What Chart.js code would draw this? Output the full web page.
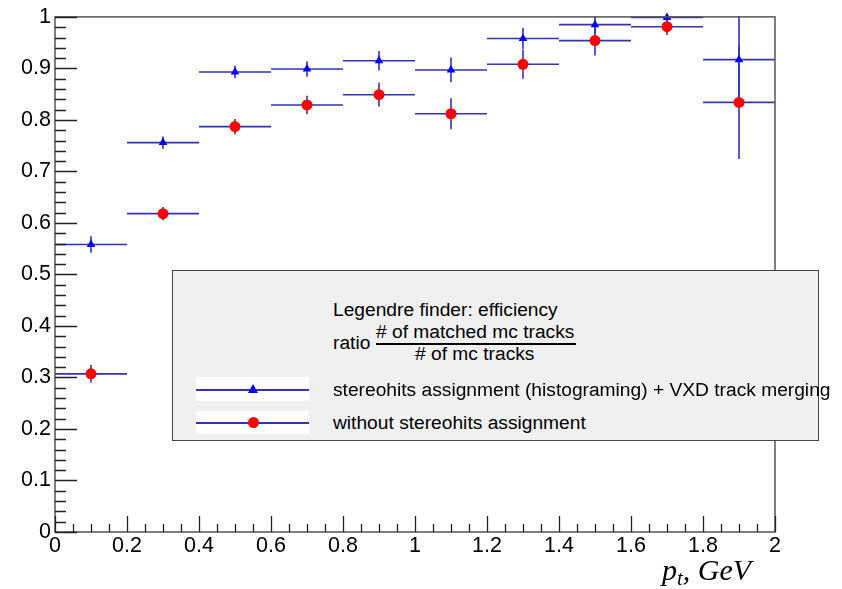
<!DOCTYPE html>
<html>
<head>
<meta charset="utf-8">
<script src="https://cdn.jsdelivr.net/npm/chart.js@4/dist/chart.umd.min.js"></script>
<style>
  body { margin: 0; background: #fff; }
  #wrap { position: relative; width: 842px; height: 589px; font-family: "Liberation Sans", Arial, sans-serif; }
  #chart { position: absolute; left: 0; top: 0; }
  .abs { position: absolute; white-space: nowrap; }
  #legend { left: 172px; top: 270px; width: 645px; height: 169px; background: #f0f0f0; border: 1px solid #444; }
  .txt { font-size: 19.2px; line-height: 22px; color: #000; }
  .entrybox { background: #fff; }
  .eline { height: 2px; background: #3333bb; }
  .tri { width: 0; height: 0; border-left: 5px solid transparent; border-right: 5px solid transparent; border-bottom: 9px solid #0000ff; }
  .dot { width: 11px; height: 11px; border-radius: 50%; background: #ff0000; }
  #xtitle { font-family: "Liberation Serif", serif; font-style: italic; font-size: 30px; line-height: 34px; }
  #xtitle sub { font-size: 21px; vertical-align: -5px; }
</style>
</head>
<body>
<div id="wrap">
  <canvas id="chart" width="842" height="589"></canvas>

  <div id="legend" class="abs"></div>
  <div class="abs txt" style="left:333px; top:299px;">Legendre finder: efficiency</div>
  <div class="abs txt" style="left:333px; top:332px;">ratio</div>
  <div class="abs txt" style="left:376px; top:321px;"># of matched mc tracks</div>
  <div class="abs" style="left:376px; top:343px; width:200px; height:2px; background:#000;"></div>
  <div class="abs txt" style="left:415px; top:343px;"># of mc tracks</div>

  <div class="abs entrybox" style="left:196px; top:377px; width:113px; height:24px;"></div>
  <div class="abs eline" style="left:196px; top:389px; width:113px;"></div>
  <div class="abs tri" style="left:248px; top:384px;"></div>
  <div class="abs txt" style="left:333px; top:379px;">stereohits assignment (histograming) + VXD track merging</div>

  <div class="abs entrybox" style="left:196px; top:411px; width:113px; height:23px;"></div>
  <div class="abs eline" style="left:196px; top:422px; width:113px;"></div>
  <div class="abs dot" style="left:248px; top:417px;"></div>
  <div class="abs txt" style="left:333px; top:412px;">without stereohits assignment</div>

  <div id="xtitle" class="abs" style="left:662px; top:553px;">p<sub>t</sub>, GeV</div>
</div>

<script>
// bin centres and half widths (p_t, GeV)
var binCenters = [0.1, 0.3, 0.5, 0.7, 0.9, 1.1, 1.3, 1.5, 1.7, 1.9];
var binHalfWidth = [0.1, 0.1, 0.1, 0.1, 0.1, 0.1, 0.1, 0.1, 0.1, 0.1];

// stereohits assignment (histograming) + VXD track merging
var effStereo = [0.558, 0.756, 0.893, 0.899, 0.915, 0.897, 0.958, 0.985, 0.999, 0.917];
var errStereo = [0.016, 0.012, 0.012, 0.015, 0.019, 0.024, 0.021, 0.018, 0.008, 0.090];

// without stereohits assignment
var effPlain = [0.307, 0.618, 0.787, 0.829, 0.849, 0.812, 0.908, 0.954, 0.981, 0.834];
var errPlain = [0.017, 0.013, 0.015, 0.018, 0.023, 0.030, 0.028, 0.029, 0.016, 0.110];

var xTickValues = [0, 0.2, 0.4, 0.6, 0.8, 1, 1.2, 1.4, 1.6, 1.8, 2];
var yTickValues = [0, 0.1, 0.2, 0.3, 0.4, 0.5, 0.6, 0.7, 0.8, 0.9, 1];

var barColor = '#3333bb';

function points(ys, errs) {
    return binCenters.map(function (x, i) {
        return { x: x, y: ys[i], xErr: binHalfWidth[i], yErr: errs[i] };
    });
}

function fmt(v) {
    return String(+v.toFixed(2));
}

// ROOT-like error crosses, drawn under the markers
var errorBars = {
    id: 'errorBars',
    beforeDatasetsDraw: function (chart) {
        var ctx = chart.ctx, xs = chart.scales.x, ys = chart.scales.y, area = chart.chartArea;
        ctx.save();
        ctx.beginPath();
        ctx.rect(area.left, area.top - 1, area.right - area.left + 1, area.bottom - area.top + 1);
        ctx.clip();
        ctx.strokeStyle = barColor;
        ctx.lineWidth = 1.6;
        chart.data.datasets.forEach(function (ds) {
            ds.data.forEach(function (p) {
                var py = ys.getPixelForValue(p.y);
                var px = xs.getPixelForValue(p.x);
                ctx.beginPath();
                ctx.moveTo(xs.getPixelForValue(p.x - p.xErr), py);
                ctx.lineTo(xs.getPixelForValue(p.x + p.xErr), py);
                ctx.moveTo(px, ys.getPixelForValue(p.y - p.yErr));
                ctx.lineTo(px, ys.getPixelForValue(p.y + p.yErr));
                ctx.stroke();
            });
        });
        ctx.restore();
    }
};

// frame and inward ticks
var rootFrame = {
    id: 'rootFrame',
    afterDraw: function (chart) {
        var ctx = chart.ctx, xs = chart.scales.x, ys = chart.scales.y, a = chart.chartArea;
        ctx.save();
        ctx.strokeStyle = '#555';
        ctx.lineWidth = 1.5;
        ctx.strokeRect(a.left, a.top, a.right - a.left, a.bottom - a.top);
        ctx.strokeStyle = '#222';
        ctx.lineWidth = 1.3;
        ctx.beginPath();
        for (var i = 0; i <= 50; i++) {
            var py = Math.round(ys.getPixelForValue(i * 0.02)) + 0.5;
            var len = (i % 5 === 0) ? 22 : 11;
            ctx.moveTo(a.left, py);
            ctx.lineTo(a.left + len, py);
        }
        for (var j = 0; j <= 40; j++) {
            var px = Math.round(xs.getPixelForValue(j * 0.05)) + 0.5;
            var l2 = (j % 4 === 0) ? 16 : 8;
            ctx.moveTo(px, a.bottom);
            ctx.lineTo(px, a.bottom - l2);
        }
        ctx.stroke();
        ctx.restore();
    }
};

Chart.defaults.font.family = '"Liberation Sans", Arial, sans-serif';
Chart.defaults.color = '#000';

var ctx = document.getElementById('chart');
var myChart = new Chart(ctx, {
    type: 'scatter',
    data: {
        datasets: [{
            label: 'without stereohits assignment',
            data: points(effPlain, errPlain),
            pointStyle: 'circle',
            pointRadius: 5.5,
            backgroundColor: '#ff0000',
            borderColor: '#ff0000',
            borderWidth: 0,
            clip: false,
            order: 0
        }, {
            label: 'stereohits assignment (histograming) + VXD track merging',
            data: points(effStereo, errStereo),
            pointStyle: 'triangle',
            pointRadius: 5,
            backgroundColor: '#0000ff',
            borderColor: '#0000ff',
            borderWidth: 0,
            clip: false,
            order: 1
        }]
    },
    options: {
        responsive: false,
        animation: false,
        layout: { padding: { left: 0, top: 15, right: 67, bottom: 0 } },
        plugins: {
            legend: { display: false },
            tooltip: { enabled: false }
        },
        scales: {
            x: {
                type: 'linear',
                min: 0,
                max: 2,
                grid: { display: false, drawTicks: false },
                border: { display: false },
                afterBuildTicks: function (scale) {
                    scale.ticks = xTickValues.map(function (v) { return { value: v }; });
                },
                afterFit: function (scale) { scale.height = 57; },
                ticks: {
                    font: { size: 21.5 },
                    padding: 1,
                    maxRotation: 0,
                    autoSkip: false,
                    callback: fmt
                }
            },
            y: {
                min: 0,
                max: 1,
                grid: { display: false, drawTicks: false },
                border: { display: false },
                afterBuildTicks: function (scale) {
                    scale.ticks = yTickValues.map(function (v) { return { value: v }; });
                },
                afterFit: function (scale) { scale.width = 55; },
                ticks: {
                    font: { size: 21.5 },
                    padding: 4,
                    autoSkip: false,
                    callback: fmt
                }
            }
        }
    },
    plugins: [errorBars, rootFrame]
});
</script>
</body>
</html>
